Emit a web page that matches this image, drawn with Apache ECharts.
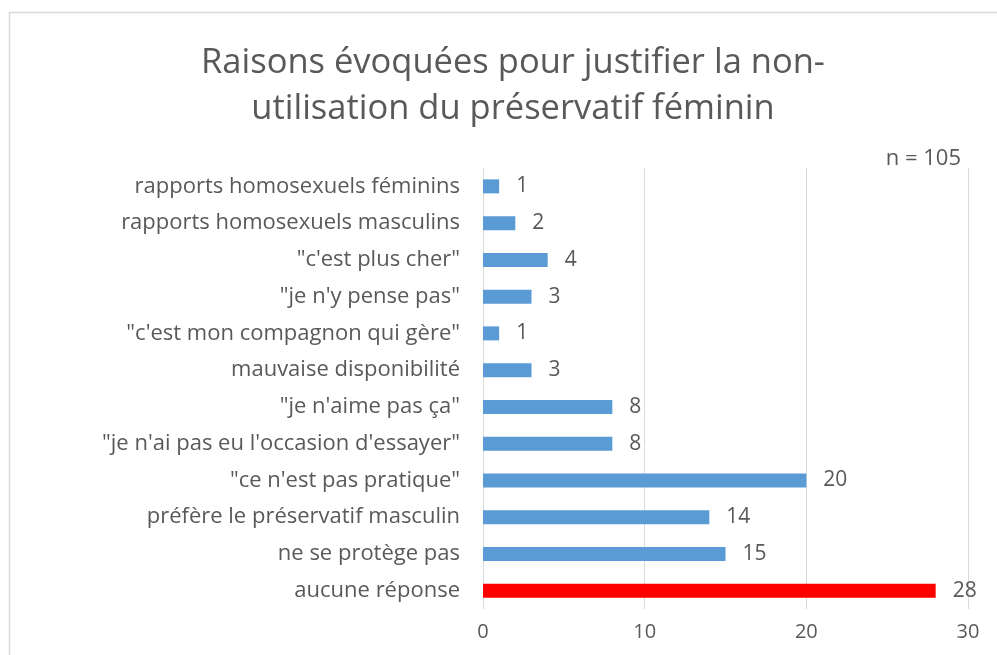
<!DOCTYPE html>
<html>
<head>
<meta charset="utf-8">
<script src="https://cdn.jsdelivr.net/npm/echarts@6/dist/echarts.min.js"></script>
<style>
  html, body { margin: 0; padding: 0; background: #fff; }
  #chart { width: 997px; height: 655px; }
</style>
</head>
<body>
<div id="chart"></div>
<script>
// Reasons given, listed top to bottom
const categories = [
  'rapports homosexuels féminins',
  'rapports homosexuels masculins',
  '"c\'est plus cher"',
  '"je n\'y pense pas"',
  '"c\'est mon compagnon qui gère"',
  'mauvaise disponibilité',
  '"je n\'aime pas ça"',
  '"je n\'ai pas eu l\'occasion d\'essayer"',
  '"ce n\'est pas pratique"',
  'préfère le préservatif masculin',
  'ne se protège pas',
  'aucune réponse'
];
const counts = [1, 2, 4, 3, 1, 3, 8, 8, 20, 14, 15, 28];
const highlighted = ['aucune réponse'];
const xTicks = { min: 0, max: 30, interval: 10 };
const sampleNote = 'n = 105';

const FONT = '"Open Sans", sans-serif';
const TXT = '#595959';

const chart = echarts.init(document.getElementById('chart'));
chart.setOption({
  backgroundColor: '#ffffff',
  animation: false,
  title: {
    text: 'Raisons évoquées pour justifier la non-\nutilisation du préservatif féminin',
    left: 508,
    textAlign: 'center',
    top: 35,
    textStyle: { fontFamily: FONT, fontSize: 34.5, fontWeight: 'normal', color: TXT, lineHeight: 46 }
  },
  graphic: [
    {
      type: 'rect',
      shape: { x: 9.5, y: 12.5, width: 1100, height: 800 },
      style: { fill: 'none', stroke: '#d9d9d9', lineWidth: 1.5 },
      silent: true
    },
    {
      type: 'text',
      right: 36,
      top: 148,
      style: { text: sampleNote, fontFamily: FONT, fontSize: 22, fill: TXT }
    }
  ],
  grid: { left: 483, right: 29, top: 168, bottom: 46 },
  xAxis: {
    type: 'value',
    min: xTicks.min, max: xTicks.max, interval: xTicks.interval,
    axisLine: { show: false },
    axisTick: { show: false },
    splitLine: { show: true, lineStyle: { color: '#d9d9d9', width: 1 } },
    axisLabel: { fontFamily: FONT, fontSize: 20, color: TXT, margin: 13 }
  },
  yAxis: {
    type: 'category',
    data: categories,
    inverse: true,
    axisLine: { show: false },
    axisTick: { show: false },
    axisLabel: { fontFamily: FONT, fontSize: 22, color: TXT, margin: 23 }
  },
  series: [{
    type: 'bar',
    barWidth: 14,
    data: counts.map((v, i) => ({
      value: v,
      itemStyle: { color: highlighted.includes(categories[i]) ? '#ff0000' : '#5b9bd5' }
    })),
    label: {
      show: true,
      position: 'right',
      distance: 17,
      fontFamily: FONT,
      fontSize: 21,
      color: TXT
    }
  }]
});
</script>
</body>
</html>
